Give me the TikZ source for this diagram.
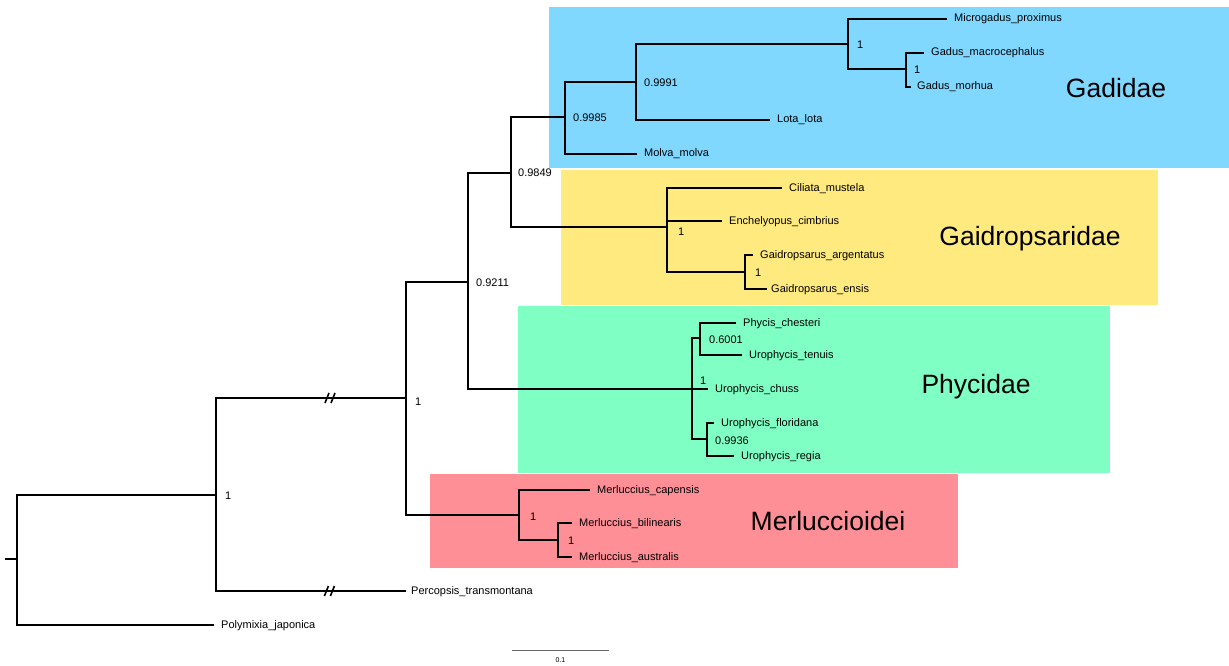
\documentclass[tikz,border=0pt]{standalone}
\usepackage{fontspec}
\setmainfont{Liberation Sans}
\usetikzlibrary{calc}

\definecolor{gadblue}{RGB}{128,215,255}
\definecolor{gaiyellow}{RGB}{255,234,128}
\definecolor{phygreen}{RGB}{128,255,196}
\definecolor{merred}{RGB}{255,143,150}

\begin{document}
\begin{tikzpicture}[x=1pt,y=-1pt,
		every node/.style={font=\fontsize{11}{13}\selectfont},
		br/.style={line width=2.2pt,line cap=rect},
		leaf/.style={anchor=west,inner xsep=8pt,inner ysep=0pt,text height=8pt,text depth=2pt},
		supp/.style={anchor=west,inner sep=0pt,text height=8pt,text depth=0pt},
		clade/.style={font=\fontsize{26.5}{30}\selectfont,inner sep=0pt,text height=19pt,text depth=0pt},
		brkmark/.pic={\draw[line width=1.6pt] (-5,5)--(-1,-5) (1,5)--(5,-5);}]
		\useasboundingbox (0,0) rectangle (1229,666);
		
		% clade boxes
		\fill[gadblue] (549,7) rectangle (1229,168);
		\fill[gaiyellow] (561,170) rectangle (1158,305);
		\fill[phygreen] (518,306) rectangle (1110,473);
		\fill[merred] (430,474) rectangle (958,568);
		\node[clade] (gadidae) at (1116,88) {Gadidae};
		\node[clade] (gaidrop) at (1030,236) {Gaidropsaridae};
		\node[clade] (phycidae) at (976,384) {Phycidae};
		\node[clade] (merlu) at (828,521) {Merluccioidei};
		
		% internal nodes
		\coordinate (stub) at (6,559);
		\coordinate (root) at (17,559);
		\coordinate (n1) at (216,495);
		\coordinate (n2) at (406,398);
		\coordinate (n3) at (468,282);
		\coordinate (n4) at (511,173);
		\coordinate (nGad) at (565,117);
		\coordinate (n5) at (636,82);
		\coordinate (n6) at (848,44);
		\coordinate (n7) at (906,69);
		\coordinate (nGai) at (667,227);
		\coordinate (n8) at (745,272);
		\coordinate (nPhy) at (692,389);
		\coordinate (n9) at (700,338);
		\coordinate (n10) at (707,439);
		\coordinate (nMer) at (519,515);
		\coordinate (n11) at (558,540);
		
		% leaves
		\node[leaf] (polymixia) at (213,625) {Polymixia\_japonica};
		\node[leaf,inner xsep=6pt] (percopsis) at (405,591) {Percopsis\_transmontana};
		\node[leaf] (microgadus) at (946,19) {Microgadus\_proximus};
		\node[leaf] (macroceph) at (923,53) {Gadus\_macrocephalus};
		\node[leaf,inner xsep=7pt] (morhua) at (910,87) {Gadus\_morhua};
		\node[leaf] (lota) at (769,120) {Lota\_lota};
		\node[leaf] (molva) at (636,154) {Molva\_molva};
		\node[leaf] (ciliata) at (781,188) {Ciliata\_mustela};
		\node[leaf] (enchelyopus) at (721,221) {Enchelyopus\_cimbrius};
		\node[leaf] (argentatus) at (752,255) {Gaidropsarus\_argentatus};
		\node[leaf,inner xsep=5pt] (ensis) at (766,289) {Gaidropsarus\_ensis};
		\node[leaf] (chesteri) at (735,323) {Phycis\_chesteri};
		\node[leaf] (tenuis) at (741,355) {Urophycis\_tenuis};
		\node[leaf] (chuss) at (707,389) {Urophycis\_chuss};
		\node[leaf] (floridana) at (713,423) {Urophycis\_floridana};
		\node[leaf] (regia) at (733,456) {Urophycis\_regia};
		\node[leaf] (capensis) at (589,490) {Merluccius\_capensis};
		\node[leaf] (bilinearis) at (571,523) {Merluccius\_bilinearis};
		\node[leaf] (australis) at (571,557) {Merluccius\_australis};
		
		% branches
		\draw[br] (stub) -- (root);
		\draw[br] (root) |- (n1) (root) |- (polymixia.west);
		\draw[br] (n1) |- (n2) (n1) |- (percopsis.west);
		\draw[br] (n2) |- (n3) (n2) |- (nMer);
		\draw[br] (n3) |- (n4) (n3) |- (nPhy);
		\draw[br] (n4) |- (nGad) (n4) |- (nGai);
		\draw[br] (nGad) |- (n5) (nGad) |- (molva.west);
		\draw[br] (n5) |- (n6) (n5) |- (lota.west);
		\draw[br] (n6) |- (microgadus.west) (n6) |- (n7);
		\draw[br] (n7) |- (macroceph.west) (n7) |- (morhua.west);
		\draw[br] (nGai) |- (ciliata.west) (nGai) |- (enchelyopus.west) (nGai) |- (n8);
		\draw[br] (n8) |- (argentatus.west) (n8) |- (ensis.west);
		\draw[br] (nPhy) |- (n9) (nPhy) |- (chuss.west) (nPhy) |- (n10);
		\draw[br] (n9) |- (chesteri.west) (n9) |- (tenuis.west);
		\draw[br] (n10) |- (floridana.west) (n10) |- (regia.west);
		\draw[br] (nMer) |- (capensis.west) (nMer) |- (n11);
		\draw[br] (n11) |- (bilinearis.west) (n11) |- (australis.west);
		
		% shortened branches
		\pic at ($(n1|-n2)!0.6!(n2)$) {brkmark};
		\pic at ($(n1|-percopsis.west)!0.6!(percopsis.west)$) {brkmark};
		
		% support values
		\node[supp,xshift=9pt,yshift=0pt] at (n1) {1};
		\node[supp,xshift=9pt,yshift=-3pt] at (n2) {1};
		\node[supp,xshift=8pt,yshift=0pt] at (n3) {0.9211};
		\node[supp,xshift=7pt,yshift=1pt] at (n4) {0.9849};
		\node[supp,xshift=8pt,yshift=-1pt] at (nGad) {0.9985};
		\node[supp,xshift=8pt,yshift=-1pt] at (n5) {0.9991};
		\node[supp,xshift=9pt,yshift=-1pt] at (n6) {1};
		\node[supp,xshift=8pt,yshift=-1pt] at (n7) {1};
		\node[supp,xshift=11pt,yshift=-4pt] at (nGai) {1};
		\node[supp,xshift=10pt,yshift=0pt] at (n8) {1};
		\node[supp,xshift=8pt,yshift=9pt] at (nPhy) {1};
		\node[supp,xshift=9pt,yshift=-1pt] at (n9) {0.6001};
		\node[supp,xshift=8pt,yshift=-1pt] at (n10) {0.9936};
		\node[supp,xshift=11pt,yshift=-1pt] at (nMer) {1};
		\node[supp,xshift=10pt,yshift=0pt] at (n11) {1};
		
		% scale bar
		\coordinate (sbA) at (512,650);
		\coordinate (sbB) at (609,650);
		\draw[gray!80!black,line width=0.9pt] (sbA) -- (sbB);
		\node[font=\fontsize{7}{8}\selectfont,inner sep=0pt] (sblabel) at ($(sbA)!0.5!(sbB)+(0,10)$) {0.1};
	\end{tikzpicture}
\end{document}
